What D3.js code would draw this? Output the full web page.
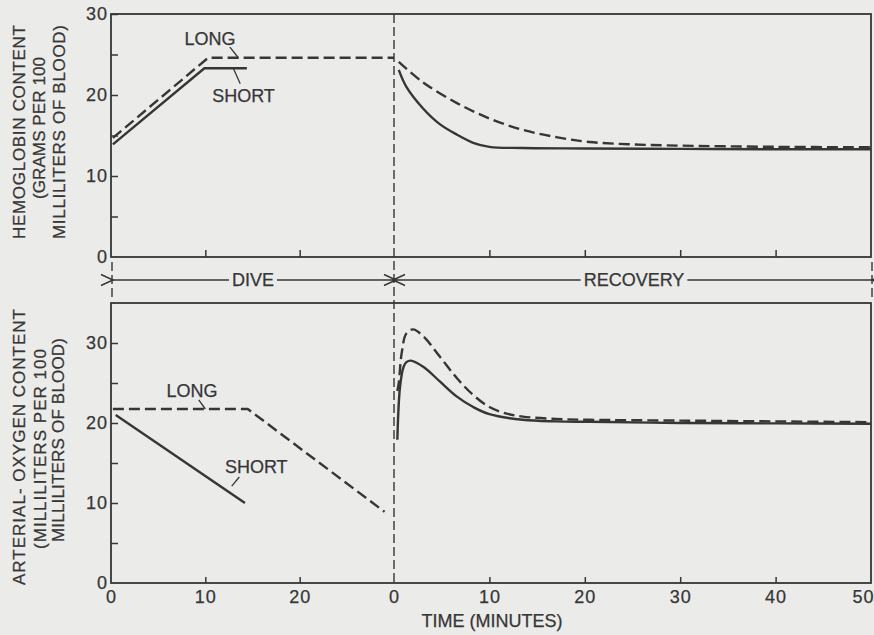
<!DOCTYPE html>
<html>
<head>
<meta charset="utf-8">
<script src="https://cdn.jsdelivr.net/npm/d3@7/dist/d3.min.js"></script>
<style>
  html, body { margin: 0; padding: 0; background: #ebebea; }
  svg { display: block; }
  text { font-family: "Liberation Sans", Arial, Helvetica, sans-serif; fill: #363636; stroke: #363636; stroke-width: 0.25px; }
</style>
</head>
<body>
<svg id="chart" width="874" height="635"></svg>
<script>
// ---------------- DATA ----------------
// Hemoglobin content (g / 100 ml) — dive phase (minutes from dive start)
const hbLongDiveT  = [0.2, 10.3, 30];
const hbLongDiveV  = [14.7, 24.6, 24.6];
const hbShortDiveT = [0.2, 9.9, 14.4];
const hbShortDiveV = [13.9, 23.3, 23.3];
// Hemoglobin — recovery phase (minutes from surfacing)
const hbLongRecT  = [0.5, 3, 6.6, 10, 13.5, 17, 20.5, 25, 30, 40, 50];
const hbLongRecV  = [24.1, 21.6, 19.0, 17.1, 15.7, 14.8, 14.2, 13.9, 13.75, 13.6, 13.55];
const hbShortRecT = [0.5, 1.3, 3, 4.8, 6.6, 8.3, 10, 13.5, 20, 30, 40, 50];
const hbShortRecV = [23.1, 21.0, 18.4, 16.4, 15.1, 14.1, 13.6, 13.45, 13.4, 13.35, 13.3, 13.3];

// Arterial-oxygen content (ml / 100 ml) — dive phase
const o2LongDiveT  = [0.2, 14.5, 29];
const o2LongDiveV  = [21.75, 21.75, 8.9];
const o2ShortDiveT = [0.5, 14.2];
const o2ShortDiveV = [21.0, 10.0];
// Arterial-oxygen — recovery phase
const o2LongRecT  = [0.35, 0.5, 0.8, 1.3, 2.0, 3.1, 4.8, 6.6, 8.3, 10, 11.7, 13.5, 17, 20.5, 30, 40, 50];
const o2LongRecV  = [24.0, 25.0, 28.7, 31.2, 31.7, 30.8, 28.3, 25.6, 23.5, 22.0, 21.2, 20.8, 20.5, 20.4, 20.3, 20.2, 20.1];
const o2ShortRecT = [0.35, 0.63, 1.0, 1.3, 1.75, 3.1, 4.8, 6.6, 8.3, 10, 13.5, 17, 20.5, 30, 40, 50];
const o2ShortRecV = [17.9, 24.5, 27.0, 27.6, 27.8, 27.0, 25.2, 23.3, 22.0, 21.1, 20.4, 20.2, 20.15, 20.0, 19.95, 19.9];

// Axis ticks
const diveTicks = [0, 10, 20];
const recTicks  = [0, 10, 20, 30, 40, 50];
const hbTicks   = [0, 5, 10, 15, 20, 25, 30];
const o2Ticks   = [0, 5, 10, 15, 20, 25, 30];

// Texts
const hbTitle = ["HEMOGLOBIN CONTENT", "(GRAMS PER 100", "MILLILITERS OF BLOOD)"];
const o2Title = ["ARTERIAL- OXYGEN CONTENT", "(MILLILITERS PER 100", "MILLILITERS OF BLOOD)"];
const xTitle = "TIME (MINUTES)";
const phaseLabels = ["DIVE", "RECOVERY"];
const seriesLabels = ["LONG", "SHORT"];

// ---------------- LAYOUT ----------------
const ink = "#363636";
const svg = d3.select("#chart");
svg.append("rect").attr("width", 874).attr("height", 635).attr("fill", "#ebebea");

const xDive = d3.scaleLinear().domain([0, 30]).range([111, 394]);
const xRec  = d3.scaleLinear().domain([0, 50]).range([394, 871]);
const yTop  = d3.scaleLinear().domain([0, 30]).range([257, 14]);
const yBot  = d3.scaleLinear().domain([0, 35]).range([583, 303]);

const zip = (t, v) => t.map((d, i) => [d, v[i]]);

// frames
function frame(y0, y1) {
  svg.append("rect")
    .attr("x", xDive(0)).attr("y", y1)
    .attr("width", xRec(50) - xDive(0)).attr("height", y0 - y1)
    .attr("fill", "none").attr("stroke", ink).attr("stroke-width", 1.8);
}
frame(yTop(0), yTop(30));
frame(yBot(0), yBot(35));

// axes
function styleAxis(g) {
  g.select(".domain").remove();
  g.selectAll(".tick line").attr("stroke", ink).attr("stroke-width", 1.5);
  g.selectAll(".tick text").attr("fill", ink).style("font-size", "18px")
    .style("letter-spacing", "1px")
    .style("font-family", '"Liberation Sans", Arial, sans-serif');
}
const fmt10 = d => (d % 10 === 0 ? d : "");
svg.append("g").attr("transform", `translate(${xDive(0)},0)`)
  .call(d3.axisLeft(yTop).tickValues(hbTicks).tickFormat(fmt10).tickSize(-7).tickPadding(3))
  .call(styleAxis);
svg.append("g").attr("transform", `translate(${xDive(0)},0)`)
  .call(d3.axisLeft(yBot).tickValues(o2Ticks).tickFormat(fmt10).tickSize(-7).tickPadding(3))
  .call(styleAxis);

// top panel x ticks (no labels)
svg.append("g").attr("transform", `translate(0,${yTop(0)})`)
  .call(d3.axisBottom(xDive).tickValues(diveTicks.filter(d => d > 0)).tickFormat("").tickSize(-7))
  .call(styleAxis);
svg.append("g").attr("transform", `translate(0,${yTop(0)})`)
  .call(d3.axisBottom(xRec).tickValues(recTicks.filter(d => d > 0 && d < 50)).tickFormat("").tickSize(-7))
  .call(styleAxis);
// bottom panel x axes with labels
svg.append("g").attr("transform", `translate(0,${yBot(0)})`)
  .call(d3.axisBottom(xDive).tickValues(diveTicks).tickSize(-6).tickPadding(7))
  .call(styleAxis);
const recAxis = svg.append("g").attr("transform", `translate(0,${yBot(0)})`)
  .call(d3.axisBottom(xRec).tickValues(recTicks).tickSize(-6).tickPadding(7))
  .call(styleAxis);
recAxis.selectAll(".tick").filter(d => d === 50).select("text")
  .attr("text-anchor", "end").attr("x", 3);
svg.selectAll(".tick").filter(d => d === 0 || d === 50).select("line").attr("stroke-opacity", 0);

// vertical dashed separators
svg.append("line")
  .attr("x1", xRec(0)).attr("x2", xRec(0))
  .attr("y1", yTop(30)).attr("y2", yBot(0))
  .attr("stroke", ink).attr("stroke-width", 1.4).attr("stroke-dasharray", "9,4");
[xDive(0) + 1, xRec(50) + 1].forEach(x => {
  svg.append("line").attr("x1", x).attr("x2", x)
    .attr("y1", yTop(0) + 5).attr("y2", yBot(35) - 5)
    .attr("stroke", ink).attr("stroke-width", 1.4).attr("stroke-dasharray", "9,4");
});

// phase arrows
const defs = svg.append("defs");
defs.append("marker").attr("id", "chev").attr("viewBox", "-2 -8 16 16")
  .attr("refX", 0).attr("refY", 0).attr("markerWidth", 16).attr("markerHeight", 16)
  .attr("markerUnits", "userSpaceOnUse").attr("orient", "auto-start-reverse")
  .append("path").attr("d", "M12,-5.5 L0,0 L12,5.5").attr("fill", "none")
  .attr("stroke", ink).attr("stroke-width", 1.5);

const arrowY = 280;
function phaseArrow(x0, x1, label) {
  const cx = (x0 + x1) / 2;
  const t = svg.append("text").attr("x", cx).attr("y", arrowY).attr("dy", "0.36em")
    .attr("text-anchor", "middle").style("font-size", "18px").text(label);
  const w = t.node().getComputedTextLength();
  svg.append("line").attr("x1", cx - w / 2 - 3).attr("x2", x0).attr("y1", arrowY).attr("y2", arrowY)
    .attr("stroke", ink).attr("stroke-width", 1.3).attr("marker-end", "url(#chev)");
  svg.append("line").attr("x1", cx + w / 2 + 3).attr("x2", x1).attr("y1", arrowY).attr("y2", arrowY)
    .attr("stroke", ink).attr("stroke-width", 1.3).attr("marker-end", "url(#chev)");
}
phaseArrow(xDive(0) + 2, xRec(0) - 1, phaseLabels[0]);
phaseArrow(xRec(0) + 2, xRec(50) + 1, phaseLabels[1]);

// series lines
function drawSeries(xs, ys, pts, dashed, curve) {
  const line = d3.line().x(d => xs(d[0])).y(d => ys(d[1])).curve(curve);
  svg.append("path").datum(pts).attr("d", line)
    .attr("fill", "none").attr("stroke", ink).attr("stroke-width", 2.4)
    .attr("stroke-linejoin", "round")
    .attr("stroke-dasharray", dashed ? "11,5" : null);
}
const smooth = d3.curveCatmullRom.alpha(0.5);
drawSeries(xDive, yTop, zip(hbLongDiveT, hbLongDiveV), true, d3.curveLinear);
drawSeries(xDive, yTop, zip(hbShortDiveT, hbShortDiveV), false, d3.curveLinear);
drawSeries(xRec, yTop, zip(hbLongRecT, hbLongRecV), true, smooth);
drawSeries(xRec, yTop, zip(hbShortRecT, hbShortRecV), false, smooth);
drawSeries(xDive, yBot, zip(o2LongDiveT, o2LongDiveV), true, d3.curveLinear);
drawSeries(xDive, yBot, zip(o2ShortDiveT, o2ShortDiveV), false, d3.curveLinear);
drawSeries(xRec, yBot, zip(o2LongRecT, o2LongRecV), true, smooth);
drawSeries(xRec, yBot, zip(o2ShortRecT, o2ShortRecV), false, smooth);

// series labels with leader lines (positions in data units)
const annotations = [
  { ys: yTop, label: seriesLabels[0], tx: 10.5, ty: 26.2, l: [[12.6, 25.9], [13.5, 24.6]] },
  { ys: yTop, label: seriesLabels[1], tx: 14.05, ty: 19.1, l: [[13.0, 23.2], [13.7, 21.4]] },
  { ys: yBot, label: seriesLabels[0], tx: 8.6, ty: 23.25, l: [[9.3, 22.9], [10.0, 21.75]] },
  { ys: yBot, label: seriesLabels[1], tx: 15.4, ty: 13.75, l: [[13.6, 13.25], [12.8, 12.1]] }
];
annotations.forEach(a => {
  svg.append("text").attr("x", xDive(a.tx)).attr("y", a.ys(a.ty))
    .attr("text-anchor", "middle").style("font-size", "18px").text(a.label);
  svg.append("line")
    .attr("x1", xDive(a.l[0][0])).attr("y1", a.ys(a.l[0][1]))
    .attr("x2", xDive(a.l[1][0])).attr("y2", a.ys(a.l[1][1]))
    .attr("stroke", ink).attr("stroke-width", 1.3);
});

// y titles (stretched to the lengths seen in the reference)
function yTitle(lines, xs, cys, lens) {
  lines.forEach((s, i) => {
    svg.append("text")
      .attr("transform", `translate(${xs[i]},${cys[i]}) rotate(-90)`)
      .attr("text-anchor", "middle").attr("dy", "0.36em")
      .attr("textLength", lens[i]).attr("lengthAdjust", "spacing")
      .style("font-size", "17px").text(s);
  });
}
yTitle(hbTitle, [19, 39, 59], [132, 128, 132], [214, 142, 214]);
yTitle(o2Title, [19, 40, 58], [447, 449, 440], [276, 200, 204]);

// x title
svg.append("text").attr("x", 492).attr("y", 627).attr("text-anchor", "middle")
  .style("font-size", "18px").text(xTitle);
</script>
</body>
</html>
